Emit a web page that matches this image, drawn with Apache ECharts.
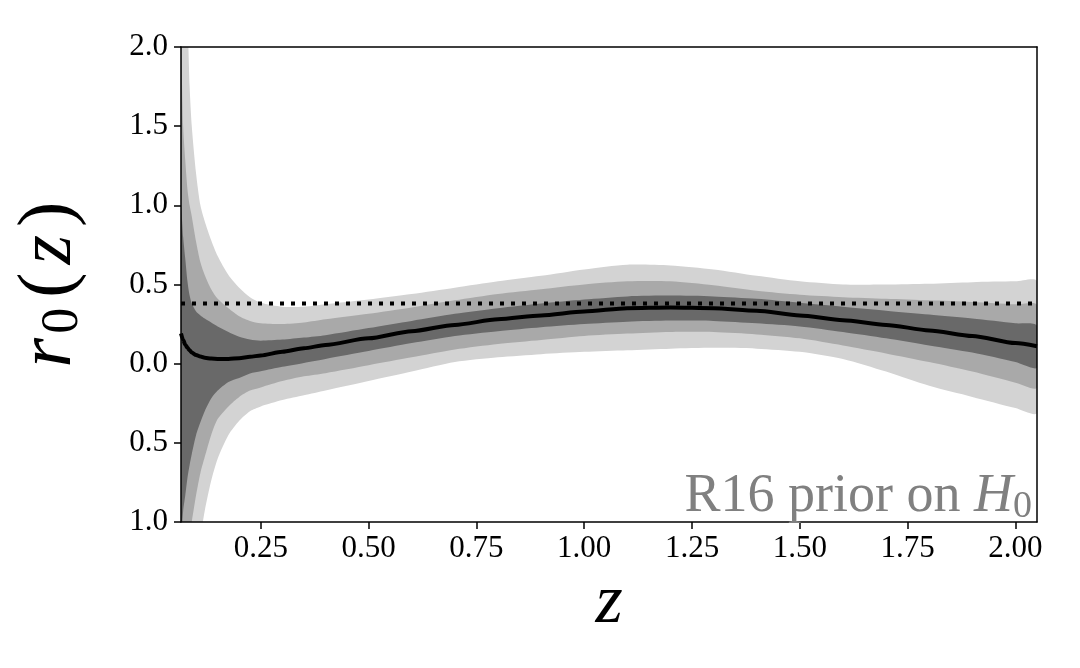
<!DOCTYPE html>
<html>
<head>
<meta charset="utf-8">
<script src="https://cdn.jsdelivr.net/npm/echarts@6/dist/echarts.min.js"></script>
<style>
    html, body { margin: 0; padding: 0; background: #fff; }
    #chart { width: 1080px; height: 668px; }
</style>
</head>
<body>
<div id="chart"></div>
<script>
    // redshift grid
    var zVals = [0.065, 0.07, 0.075, 0.08, 0.085, 0.09, 0.1, 0.11, 0.12, 0.135, 0.15, 0.175, 0.2, 0.225, 0.25,
        0.3, 0.35, 0.4, 0.5, 0.6, 0.7, 0.8, 0.9, 1.0, 1.1, 1.2, 1.3, 1.4, 1.5, 1.6, 1.7, 1.8, 1.9, 2.0, 2.05];
    // best fit r0(z)
    var meanVals = [0.19, 0.15, 0.12, 0.10, 0.085, 0.07, 0.055, 0.045, 0.037, 0.032, 0.03, 0.03, 0.035, 0.043, 0.052,
        0.075, 0.097, 0.118, 0.16, 0.205, 0.245, 0.28, 0.305, 0.33, 0.35, 0.355, 0.35, 0.335, 0.305, 0.275, 0.245, 0.21, 0.175, 0.13, 0.11];
    // 1 sigma
    var hi1 = [1.0, 0.8, 0.66, 0.52, 0.43, 0.38, 0.33, 0.305, 0.285, 0.26, 0.235, 0.2, 0.17, 0.152, 0.145,
        0.152, 0.165, 0.18, 0.225, 0.27, 0.315, 0.35, 0.38, 0.405, 0.425, 0.43, 0.425, 0.41, 0.385, 0.36, 0.335, 0.31, 0.285, 0.255, 0.24];
    var lo1 = [-1.1, -0.93, -0.83, -0.72, -0.64, -0.57, -0.45, -0.37, -0.30, -0.22, -0.17, -0.115, -0.09, -0.062, -0.048,
        -0.02, 0.005, 0.03, 0.08, 0.13, 0.175, 0.205, 0.23, 0.25, 0.265, 0.272, 0.27, 0.255, 0.235, 0.2, 0.16, 0.115, 0.07, 0.01, -0.025];
    // 2 sigma
    var hi2 = [2.0, 1.5, 1.28, 1.1, 1.0, 0.93, 0.77, 0.64, 0.56, 0.47, 0.41, 0.35, 0.30, 0.27, 0.255,
        0.25, 0.26, 0.28, 0.315, 0.355, 0.40, 0.44, 0.47, 0.50, 0.52, 0.52, 0.495, 0.46, 0.435, 0.42, 0.41, 0.40, 0.39, 0.375, 0.37];
    var lo2 = [-2.0, -1.7, -1.45, -1.25, -1.1, -1.0, -0.83, -0.69, -0.59, -0.45, -0.35, -0.27, -0.21, -0.17, -0.15,
        -0.11, -0.08, -0.06, -0.01, 0.04, 0.09, 0.125, 0.15, 0.175, 0.19, 0.2, 0.2, 0.185, 0.16, 0.115, 0.065, 0.01, -0.05, -0.12, -0.15];
    // 3 sigma
    var hi3 = [3.5, 2.9, 2.5, 2.2, 1.75, 1.5, 1.2, 1.0, 0.9, 0.78, 0.68, 0.56, 0.48, 0.42, 0.385,
        0.36, 0.36, 0.375, 0.405, 0.44, 0.48, 0.52, 0.555, 0.595, 0.625, 0.62, 0.595, 0.555, 0.52, 0.50, 0.50, 0.505, 0.515, 0.52, 0.52];
    var lo3 = [-3.5, -3.0, -2.5, -2.1, -1.8, -1.6, -1.3, -1.1, -0.93, -0.74, -0.6, -0.45, -0.36, -0.30, -0.27,
        -0.23, -0.2, -0.17, -0.11, -0.05, 0.01, 0.04, 0.06, 0.075, 0.085, 0.095, 0.10, 0.095, 0.075, 0.03, -0.05, -0.14, -0.21, -0.28, -0.31];
    var refLevel = 0.38;

    var xTicks = [0.25, 0.5, 0.75, 1.0, 1.25, 1.5, 1.75, 2.0];
    var yTicks = [-1, -0.5, 0, 0.5, 1, 1.5, 2];
    var yTickLabels = ['1.0', '0.5', '0.0', '0.5', '1.0', '1.5', '2.0'];

    var serif = 'Liberation Serif';

    function pairs(vals) {
        return zVals.map(function (z, i) { return [z, vals[i]]; });
    }

    // filled band between lo and hi, drawn through the axis scales
    function band(name, lo, hi, color) {
        return {
            name: name, type: 'custom', clip: true, silent: true, z: 2,
            data: [0],
            renderItem: function (params, api) {
                var top = zVals.map(function (z, i) { return api.coord([z, hi[i]]); });
                var bottom = zVals.map(function (z, i) { return api.coord([z, lo[i]]); }).reverse();
                return {
                    type: 'polygon',
                    shape: { points: top.concat(bottom), smooth: 0.25 },
                    style: { fill: color, stroke: null }
                };
            }
        };
    }

    var chart = echarts.init(document.getElementById('chart'), null, { renderer: 'canvas' });

    var series = [
        band('s3', lo3, hi3, '#d3d3d3'),
        band('s2', lo2, hi2, '#a9a9a9'),
        band('s1', lo1, hi1, '#696969')
    ];

    series.push({
        name: 'mean', type: 'line', data: pairs(meanVals),
        symbol: 'none', smooth: 0.25, smoothMonotone: 'x',
        lineStyle: { color: '#000', width: 4 }, z: 4
    });
    series.push({
        name: 'ref', type: 'line',
        data: [[zVals[0], refLevel], [zVals[zVals.length - 1], refLevel]],
        symbol: 'none',
        lineStyle: { color: '#000', width: 4, type: [4, 7], cap: 'butt' }, z: 5
    });

    var yName = {
        fontFamily: serif, fontSize: 76, lineHeight: 78, color: '#000', padding: [0, 4, 0, 4]
    };

    chart.setOption({
        animation: false,
        backgroundColor: '#fff',
        grid: { left: 181, right: 43, top: 47, bottom: 146 },
        xAxis: [
            {
                type: 'value', min: zVals[0], max: zVals[zVals.length - 1], z: 10,
                name: 'z', nameLocation: 'middle', nameGap: 40,
                nameTextStyle: { fontFamily: serif, fontStyle: 'italic', fontSize: 70, color: '#000' },
                axisLine: { show: true, onZero: false, lineStyle: { color: '#000', width: 1.5 } },
                axisTick: { show: true, length: 7, inside: false, customValues: xTicks, lineStyle: { color: '#000', width: 1.5 } },
                axisLabel: {
                    customValues: xTicks, margin: 11, fontFamily: serif, fontSize: 31, color: '#000',
                    formatter: function (v) { return v.toFixed(2); }
                },
                splitLine: { show: false }
            },
            {
                type: 'value', position: 'top', min: zVals[0], max: zVals[zVals.length - 1], z: 10,
                axisLine: { show: true, onZero: false, lineStyle: { color: '#000', width: 1.5 } },
                axisTick: { show: false }, axisLabel: { show: false }, splitLine: { show: false }
            }
        ],
        yAxis: [
            {
                type: 'value', min: -1, max: 2, interval: 0.5, z: 10,
                name: '{i|r}{s|0}{n|(}{i|z}{n|)}', nameLocation: 'middle', nameGap: 92, nameRotate: 90,
                nameTextStyle: {
                    color: '#000',
                    rich: {
                        i: Object.assign({}, yName, { fontStyle: 'italic' }),
                        n: yName,
                        s: { fontFamily: serif, fontSize: 52, lineHeight: 50, verticalAlign: 'bottom', color: '#000', padding: [0, 6, 0, 0] }
                    }
                },
                axisLine: { show: true, onZero: false, lineStyle: { color: '#000', width: 1.5 } },
                axisTick: { show: true, length: 7, lineStyle: { color: '#000', width: 1.5 } },
                axisLabel: {
                    margin: 13, fontFamily: serif, fontSize: 31, color: '#000',
                    formatter: function (v) {
                        var idx = Math.round((v - yTicks[0]) / 0.5);
                        return yTickLabels[idx];
                    }
                },
                splitLine: { show: false }
            },
            {
                type: 'value', position: 'right', min: -1, max: 2, z: 10,
                axisLine: { show: true, onZero: false, lineStyle: { color: '#000', width: 1.5 } },
                axisTick: { show: false }, axisLabel: { show: false }, splitLine: { show: false }
            }
        ],
        graphic: [
            {
                type: 'text', right: 48, top: 470, z: 20,
                style: {
                    text: '{a|R16 prior on }{h|H}{s|0}',
                    rich: {
                        a: { fontFamily: serif, fontSize: 54, lineHeight: 58, fill: '#808080', color: '#808080' },
                        h: { fontFamily: serif, fontStyle: 'italic', fontSize: 54, lineHeight: 58, fill: '#808080', color: '#808080' },
                        s: { fontFamily: serif, fontSize: 38, lineHeight: 38, verticalAlign: 'bottom', fill: '#808080', color: '#808080' }
                    }
                }
            }
        ],
        series: series
    });
</script>
</body>
</html>
